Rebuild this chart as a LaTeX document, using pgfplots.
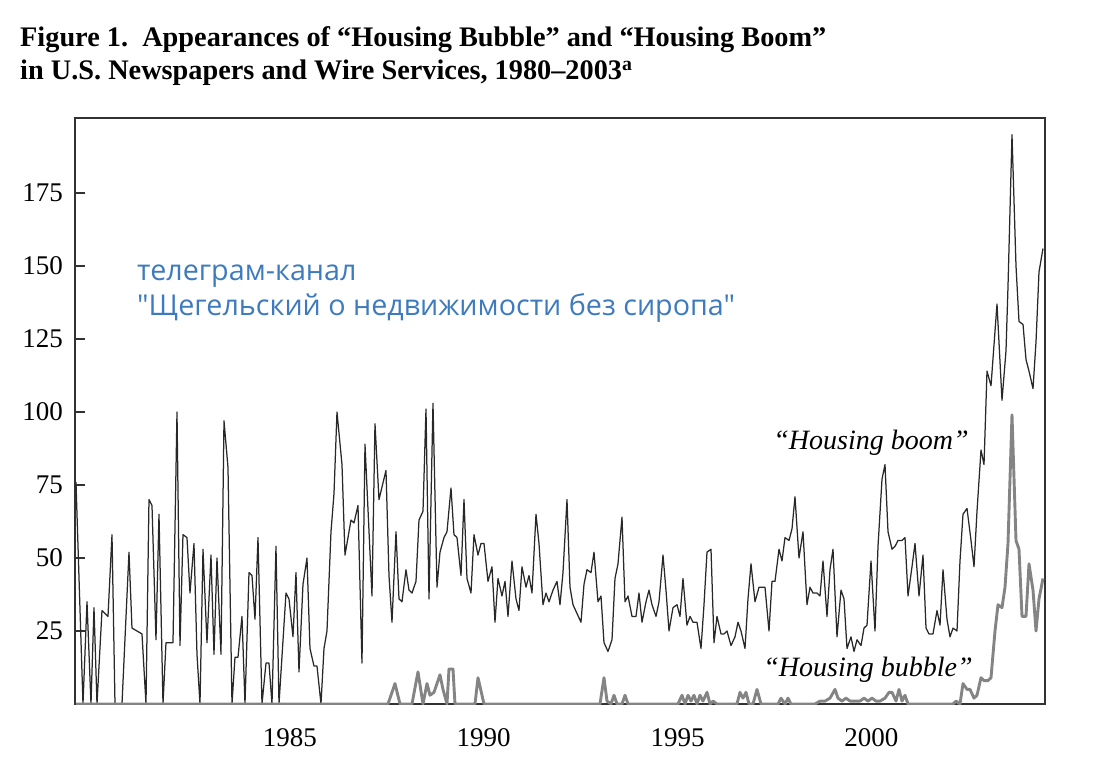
\documentclass[border=0pt]{standalone}
\usepackage{pgfplots}
\pgfplotsset{compat=1.18}
\usepackage{pgfplotstable}
\usepackage{fontspec}
\setmainfont{Liberation Serif}
\newfontfamily\wmfont{Open Sans}
\definecolor{boomc}{RGB}{40,40,40}
\definecolor{bubblec}{RGB}{132,132,132}
\definecolor{framec}{RGB}{50,50,50}
\definecolor{wmblue}{RGB}{61,122,190}

% x = horizontal position (year = 1985 + (x-290)/38.75), y = count
\pgfplotstableread{
px val
76 76
83 0
87 35
91 0
94 33
97 0
102 32
108 30
112 58
115 0
122 0
129 52
132 26
142 24
146 0
149 70
152 68
156 22
159 65
163 0
166 21
173 21
177 100
180 20
183 58
187 57
190 38
194 55
197 17
200 0
203 53
207 21
211 51
214 17
217 50
221 17
224 97
228 81
232 0
235 16
238 16
242 30
245 0
249 45
252 44
255 29
258 57
262 0
266 14
269 14
272 0
276 54
279 0
286 38
289 36
293 23
296 45
299 11
303 41
307 50
310 19
314 13
317 13
321 0
324 19
327 25
331 59
334 72
337 100
342 82
345 51
351 63
354 62
358 68
362 14
365 89
372 37
375 96
379 70
386 80
389 44
392 28
396 59
399 36
402 35
406 46
409 39
412 38
416 42
419 63
423 66
426 101
429 36
433 103
437 40
440 52
444 57
447 59
451 74
454 58
457 57
461 44
464 70
467 43
471 38
474 58
478 51
481 55
484 55
488 42
492 47
495 28
498 43
502 37
505 42
508 30
512 49
516 36
519 32
522 47
526 40
529 44
532 38
536 65
539 55
543 34
546 38
549 35
553 39
557 42
560 34
563 45
567 70
570 40
573 34
577 31
581 28
584 41
587 46
591 45
594 52
598 35
601 37
604 21
608 18
612 22
615 43
618 48
622 64
625 35
628 37
632 30
636 30
639 38
642 28
646 35
649 39
652 34
656 30
659 35
663 51
666 39
669 25
673 33
677 34
680 30
683 43
687 27
690 30
693 28
697 28
701 19
704 34
707 52
711 53
714 21
717 30
721 24
724 24
727 25
731 20
735 23
738 28
741 25
745 19
748 36
751 48
755 35
759 40
762 40
765 40
769 25
772 42
775 42
779 53
782 49
785 57
789 56
792 60
795 71
799 50
803 59
807 34
810 40
813 38
817 38
820 37
823 49
827 30
830 46
833 53
837 23
841 39
844 36
847 19
851 23
854 18
857 22
861 20
864 26
867 27
871 49
875 25
878 54
882 77
885 82
888 59
892 53
895 54
898 56
902 56
905 57
908 37
912 47
915 55
919 37
923 51
926 26
929 24
933 24
937 32
940 27
943 46
947 29
950 23
953 26
957 25
960 49
963 65
967 67
971 56
974 47
977 66
981 87
984 82
987 114
991 109
997 137
1002 104
1006 121
1008 143
1012 195
1016 150
1019 131
1023 130
1026 118
1029 114
1033 108
1036 124
1039 148
1043 156
}\boomtable

\pgfplotstableread{
px val
76 0
388 0
395 7
400 0
412 0
418 11
423 0
427 7
430 3
434 4
438 8
440 10
443 5
447 0
449 12
453 12
455 0
475 0
478 9
482 3
484 0
600 0
604 9
607 1
611 0
614 3
617 0
622 0
625 3
628 0
678 0
682 3
685 0
688 3
691 1
694 3
697 0
700 3
703 1
707 4
710 0
713 1
717 0
737 0
740 4
743 2
746 4
749 0
753 0
757 5
761 0
778 0
781 2
785 0
788 2
791 0
815 0
820 1
825 1
830 2
835 5
838 2
842 1
846 2
850 1
855 1
860 1
864 2
868 1
872 2
876 1
880 1
885 2
889 4
892 4
896 1
899 5
902 1
905 3
908 0
953 0
956 1
960 0
963 7
967 5
970 5
974 2
977 3
981 9
984 8
988 8
991 9
995 25
998 34
1002 33
1005 40
1008 55
1012 99
1016 56
1019 53
1022 30
1026 30
1029 48
1033 39
1036 25
1039 36
1043 43
}\bubbletable

\begin{document}
\begin{tikzpicture}[x=1pt,y=1pt]
\path[use as bounding box] (0,0) rectangle (1105,776);
\begin{axis}[
  at={(75pt,72pt)}, anchor=south west,
  scale only axis, width=970pt, height=586pt,
  xmin=1979.452, xmax=2004.484,
  ymin=0, ymax=200.7,
  xtick={1985,1990,1995,2000},
  xticklabels={1985,1990,1995,2000},
  ytick={25,50,75,100,125,150,175},
  ytick pos=left, tick align=inside,
  major tick length=10pt,
  xtick style={draw=none},
  ytick style={draw=framec, line width=1.1pt},
  axis line style={draw=framec, line width=1.2pt},
  /pgf/number format/assume math mode=true,
  ticklabel style={font=\fontsize{27}{30}\selectfont, text=black},
  yticklabel style={inner sep=0pt, xshift=-12pt},
  xticklabel style={inner sep=0pt, yshift=-24pt},
  clip=true,
]
\addplot[boomc, line width=1.25pt, line join=round, x filter/.expression={1985+(x-290)/38.75}] table[x=px, y=val] {\boomtable};
\addplot[bubblec, line width=2.9pt, line join=round, x filter/.expression={1985+(x-290)/38.75}] table[x=px, y=val] {\bubbletable};
\end{axis}
\node[anchor=base west, inner sep=0pt, font=\bfseries\fontsize{28.3}{31}\selectfont] at (20,729) {Figure 1.\ \ Appearances of “Housing Bubble” and “Housing Boom”};
\node[anchor=base west, inner sep=0pt, font=\bfseries\fontsize{28.3}{31}\selectfont] at (20,696) {in U.S. Newspapers and Wire Services, 1980–2003\textsuperscript{a}};
\node[anchor=base west, inner sep=0pt, text=wmblue, font=\wmfont\fontsize{28.7}{32}\selectfont] at (137,495) {телеграм-канал};
\node[anchor=base west, inner sep=0pt, text=wmblue, font=\wmfont\fontsize{28.7}{32}\selectfont] at (137,460) {"Щегельский о недвижимости без сиропа"};
\node[anchor=center, inner sep=0pt, font=\itshape\fontsize{28}{30}\selectfont] at (871,333) {“Housing boom”};
\node[anchor=center, inner sep=0pt, font=\itshape\fontsize{28}{30}\selectfont] at (868,106) {“Housing bubble”};
\end{tikzpicture}
\end{document}
